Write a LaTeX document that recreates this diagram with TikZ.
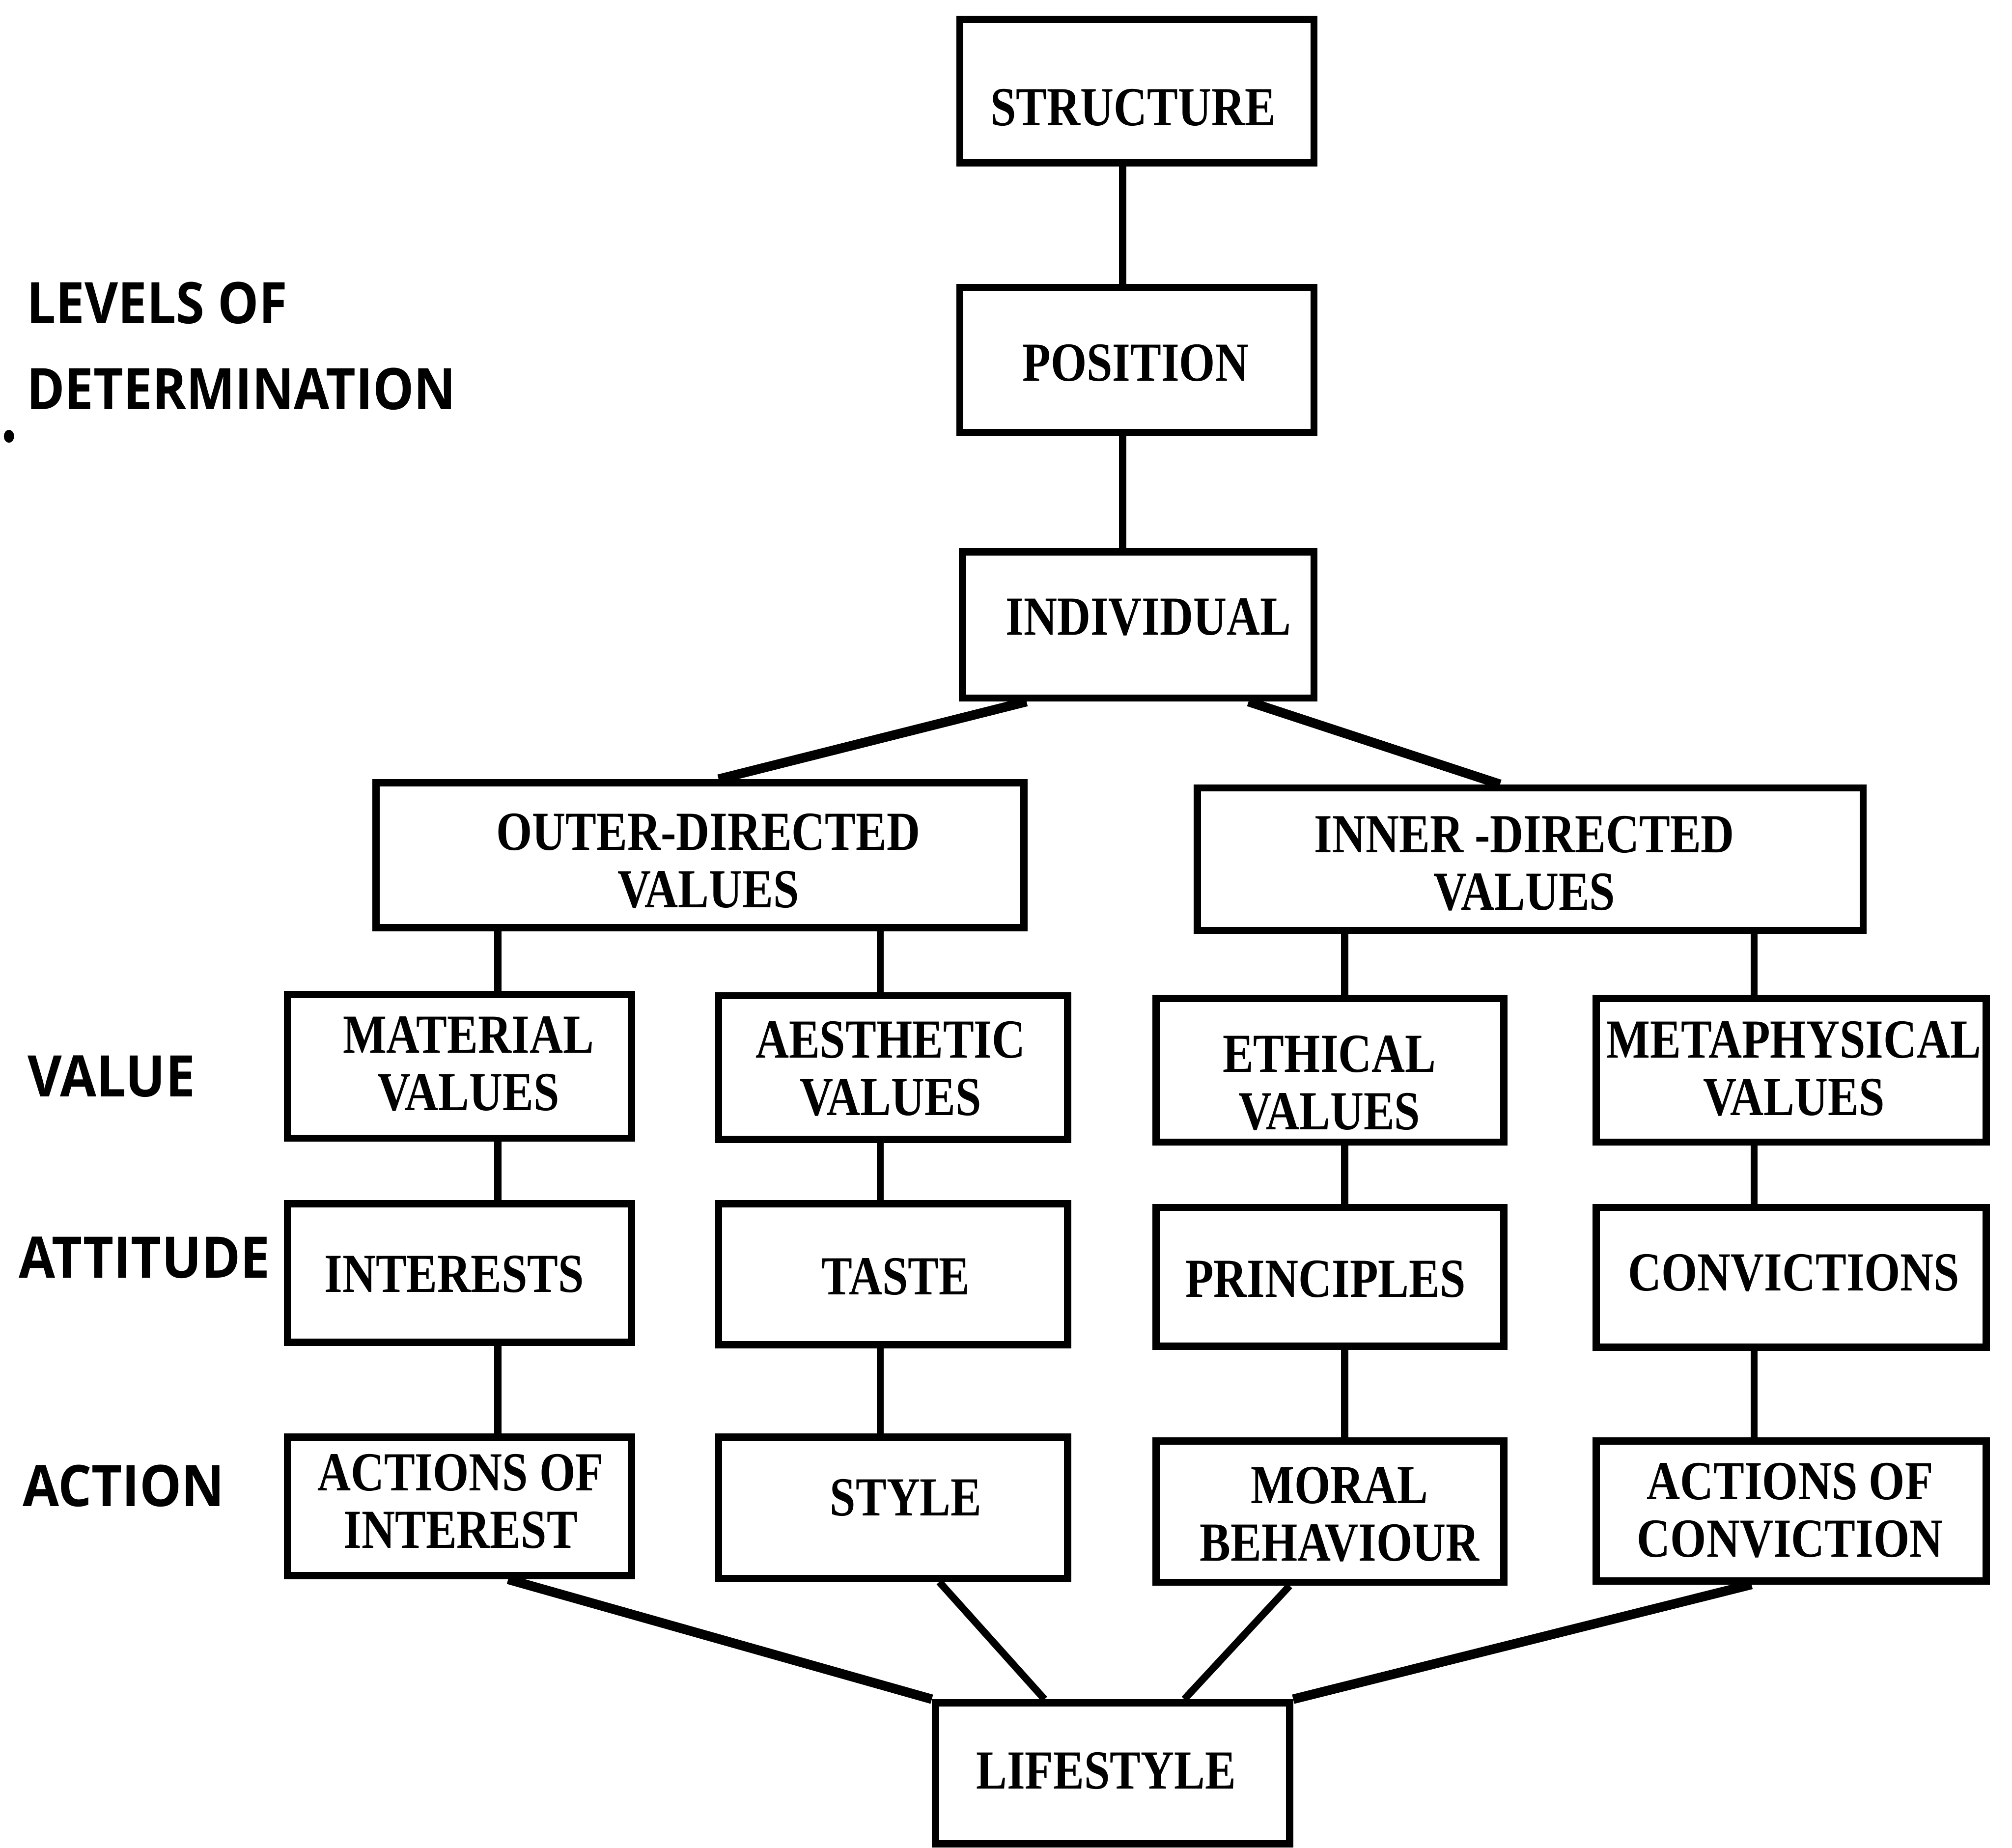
\documentclass[tikz,border=0pt]{standalone}
\usepackage{fontspec}
\setmainfont{Liberation Serif}
\newfontfamily\boxfont[FakeStretch=0.84]{Liberation Serif}
\newfontfamily\lvlfont[FakeStretch=0.9]{Open Sans}
\newfontfamily\rowfont[FakeStretch=0.92]{Open Sans}
\usetikzlibrary{fit}

% a framed box given by its outer corners, with its label placed separately
\newcommand{\framedlabel}[8]{%
  \node[frame, fit={(#2+3,#3+3) (#4-3,#5-3)}] (#1) {};
  \node[lab] (#1-t) at (#6,#7) {#8};
}

\begin{document}
\begin{tikzpicture}[x=0.01cm, y=-0.01cm,
  frame/.style={draw, rectangle, line width=1.6pt, inner sep=0pt},
  lab/.style={inner sep=0pt, align=center,
    font=\boxfont\bfseries\fontsize{12.2}{12.7}\selectfont},
  lvl/.style={inner sep=0pt, anchor=west,
    font=\lvlfont\bfseries\fontsize{12.7}{14}\selectfont},
  row/.style={inner sep=0pt, anchor=west,
    font=\rowfont\bfseries\fontsize{12.7}{14}\selectfont},
  link/.style={line width=1.6pt},
  biglink/.style={line width=2.1pt}]

\useasboundingbox (0,0) rectangle (1568,1440);

% level captions on the left
\node[lvl] (lv1) at (20,236) {LEVELS OF};
\node[lvl] (lv2) at (20,303) {DETERMINATION};
\node[row] (lv3) at (21,839) {VALUE};
\node[row] (lv4) at (14,980) {ATTITUDE};
\node[row] (lv5) at (17,1158) {ACTION};
\fill (7,340) ellipse [x radius=0.04cm, y radius=0.05cm];

% central chain
\framedlabel{str}{745}{12}{1027}{130}{883}{84}{STRUCTURE}
\framedlabel{pos}{745}{221}{1027}{340}{885}{283}{POSITION}
\framedlabel{ind}{747}{427}{1027}{547}{895}{481}{INDIVIDUAL}

% value orientations
\framedlabel{outer}{290}{607}{801}{726}{552}{671}{OUTER-DIRECTED\\VALUES}
\framedlabel{inner}{930}{611}{1455}{728}{1188}{673}{INNER -DIRECTED\\VALUES}

% value row
\framedlabel{mat}{221}{772}{495}{890}{365}{829}{MATERIAL\\VALUES}
\framedlabel{aes}{557}{773}{835}{891}{694}{833}{AESTHETIC\\VALUES}
\framedlabel{eth}{898}{775}{1175}{893}{1036}{844}{ETHICAL\\VALUES}
\framedlabel{met}{1241}{775}{1551}{893}{1398}{833}{METAPHYSICAL\\VALUES}

% attitude row
\framedlabel{int}{221}{935}{495}{1049}{354}{993}{INTERESTS}
\framedlabel{tas}{557}{935}{835}{1051}{698}{995}{TASTE}
\framedlabel{pri}{898}{938}{1175}{1052}{1033}{997}{PRINCIPLES}
\framedlabel{con}{1241}{938}{1551}{1053}{1398}{992}{CONVICTIONS}

% action row
\framedlabel{aoi}{221}{1117}{495}{1231}{359}{1170}{ACTIONS OF\\INTEREST}
\framedlabel{sty}{557}{1117}{835}{1233}{706}{1167}{STYLE}
\framedlabel{mor}{898}{1120}{1175}{1236}{1044}{1180}{MORAL\\BEHAVIOUR}
\framedlabel{aoc}{1241}{1120}{1551}{1235}{1395}{1177}{ACTIONS OF\\CONVICTION}

% result
\framedlabel{life}{726}{1324}{1008}{1440}{862}{1380}{LIFESTYLE}

% connectors
\draw[link] (str.south -| 875,0) -- (pos.north -| 875,0);
\draw[link] (pos.south -| 875,0) -- (ind.north -| 875,0);
\draw[biglink] (ind.south -| 800,0) -- (outer.north -| 560,0);
\draw[biglink] (ind.south -| 973,0) -- (inner.north -| 1169,0);

\draw[link] (outer.south -| 388,0) -- (mat.north -| 388,0);
\draw[link] (outer.south -| 686,0) -- (aes.north -| 686,0);
\draw[link] (inner.south -| 1048,0) -- (eth.north -| 1048,0);
\draw[link] (inner.south -| 1367,0) -- (met.north -| 1367,0);

\draw[link] (mat.south -| 388,0) -- (int.north -| 388,0);
\draw[link] (aes.south -| 686,0) -- (tas.north -| 686,0);
\draw[link] (eth.south -| 1048,0) -- (pri.north -| 1048,0);
\draw[link] (met.south -| 1367,0) -- (con.north -| 1367,0);

\draw[link] (int.south -| 388,0) -- (aoi.north -| 388,0);
\draw[link] (tas.south -| 686,0) -- (sty.north -| 686,0);
\draw[link] (pri.south -| 1048,0) -- (mor.north -| 1048,0);
\draw[link] (con.south -| 1367,0) -- (aoc.north -| 1367,0);

\draw[biglink] (aoi.south -| 396,0) -- (life.north west);
\draw[link] (sty.south -| 732,0) -- (life.north -| 814,0);
\draw[link] (mor.south -| 1005,0) -- (life.north -| 923,0);
\draw[biglink] (aoc.south -| 1365,0) -- (life.north east);
\end{tikzpicture}
\end{document}
